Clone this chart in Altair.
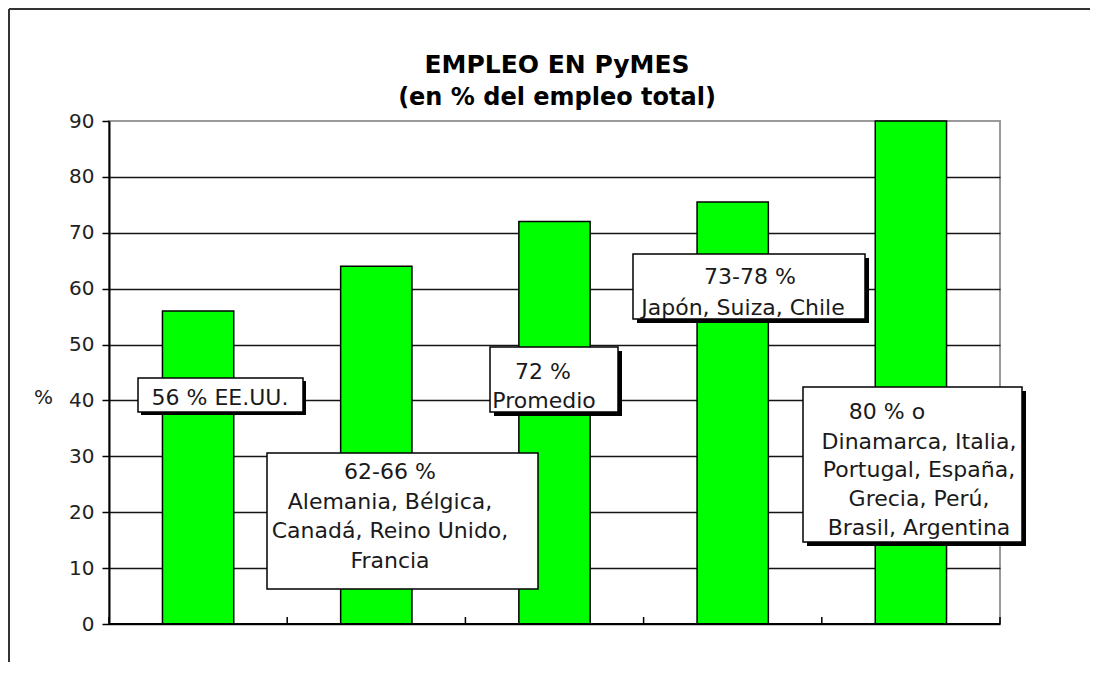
import altair as alt
import pandas as pd

# ---- data ----
categories = ["EE.UU.", "62-66 %", "Promedio", "73-78 %", "80 %"]
values = [56, 64, 72, 75.5, 90]
y_ticks = [0, 10, 20, 30, 40, 50, 60, 70, 80, 90]

title_lines = ["EMPLEO EN PyMES", "(en % del empleo total)"]

# annotation texts (one list per callout box)
note_texts = [
    ["56 % EE.UU."],
    ["62-66 %", "Alemania, Bélgica,", "Canadá, Reino Unido,", "Francia"],
    ["72 %", "Promedio"],
    ["73-78  %", "Japón, Suiza, Chile"],
    ["80 % o", "Dinamarca, Italia,", "Portugal, España,", "Grecia, Perú,", "Brasil, Argentina"],
]

# ---- layout (pixels inside the plot area) ----
W, H = 891, 503
PAD = {"left": 101, "top": 113, "right": 90, "bottom": 38}
FONT = "DejaVu Sans"

box_x0 = [29, 158, 381, 524, 694]
box_x1 = [194, 429, 509, 756, 913]
box_y0 = [257, 332, 226, 133, 266]
box_y1 = [291, 468, 291, 198, 421]
box_shadow = [3, 0, 4, 4, 4]

text_pos = [
    [(111, 277)],
    [(281, 351), (281, 381), (281, 410), (281, 440)],
    [(434, 251), (435, 280)],
    [(641, 156), (634, 187)],
    [(778, 291), (810, 321), (810, 349), (810, 378), (810, 407)],
]
title_pos = [(448, -56), (448, -23)]
title_size = [25, 24]

df = pd.DataFrame({"cat": categories, "val": values})

boxes = pd.DataFrame({"x0": box_x0, "x1": box_x1, "y0": box_y0, "y1": box_y1})
shadows = pd.DataFrame({
    "x0": [a + s for a, s in zip(box_x0, box_shadow) if s > 0],
    "x1": [a + s for a, s in zip(box_x1, box_shadow) if s > 0],
    "y0": [a + s for a, s in zip(box_y0, box_shadow) if s > 0],
    "y1": [a + s for a, s in zip(box_y1, box_shadow) if s > 0],
})
rows = []
for lines, poss in zip(note_texts, text_pos):
    for t, (px, py) in zip(lines, poss):
        rows.append({"t": t, "px": px, "py": py})
texts = pd.DataFrame(rows)
titles = pd.DataFrame({"t": title_lines,
                       "px": [p[0] for p in title_pos],
                       "py": [p[1] for p in title_pos],
                       "fs": title_size})

xscale = alt.Scale(domain=categories, paddingInner=0, paddingOuter=0)

bars = alt.Chart(df).mark_bar(
    color="#00FF00", stroke="black", strokeWidth=1.5, width={"band": 0.4}
).encode(
    x=alt.X(
        "cat:N",
        sort=categories,
        scale=xscale,
        axis=alt.Axis(
            labels=False, title=None, tickBand="extent", domain=False,
            ticks=True, tickSize=7, tickColor="black", tickWidth=1.5,
            grid=False,
        ),
    ),
    y=alt.Y(
        "val:Q",
        scale=alt.Scale(domain=[0, 90], nice=False),
        axis=alt.Axis(
            values=y_ticks,
            title="%",
            titleAngle=0,
            titleX=-66,
            titleY=276,
            titleAlign="center",
            titleBaseline="middle",
            titleFont=FONT,
            titleFontSize=20,
            titleFontWeight="normal",
            titleColor="#222222",
            labelFont=FONT,
            labelFontSize=20,
            labelColor="#222222",
            labelPadding=8,
            tickSize=7,
            tickColor="black",
            tickWidth=1.5,
            domainColor="black",
            domainWidth=2,
            grid=True,
            gridColor={"condition": {"test": "datum.value === 90", "value": "transparent"}, "value": "#151515"},
            gridWidth=1.3,
        ),
    ),
)

# upward half of the x-axis tick marks (they cross the axis line)
tick_up = alt.Chart(df).mark_rule(color="black", strokeWidth=1.5).encode(
    x=alt.X("cat:N", sort=categories, scale=xscale, bandPosition=0, axis=None),
    y=alt.value(H - 7), y2=alt.value(H),
)
tick_up_end = alt.Chart(df).transform_filter(
    alt.datum.cat == categories[-1]
).mark_rule(color="black", strokeWidth=1.5).encode(
    x=alt.X("cat:N", sort=categories, scale=xscale, bandPosition=1, axis=None),
    y=alt.value(H - 7), y2=alt.value(H),
)
base_line = alt.Chart(df).mark_rule(color="black", strokeWidth=2).encode(
    x=alt.value(0), x2=alt.value(W), y=alt.value(H)
)

shadow_layer = alt.Chart(shadows).mark_rect(color="black").encode(
    x=alt.X("x0:Q", scale=None), x2="x1:Q",
    y=alt.Y("y0:Q", scale=None), y2="y1:Q",
)
box_layer = alt.Chart(boxes).mark_rect(fill="white", stroke="black", strokeWidth=1.5).encode(
    x=alt.X("x0:Q", scale=None), x2="x1:Q",
    y=alt.Y("y0:Q", scale=None), y2="y1:Q",
)
text_layer = alt.Chart(texts).mark_text(
    font=FONT, fontSize=22, color="#1a1a1a", align="center", baseline="middle"
).encode(
    x=alt.X("px:Q", scale=None),
    y=alt.Y("py:Q", scale=None),
    text="t:N",
)
title_layer = alt.Chart(titles).mark_text(
    font=FONT, fontWeight="bold", color="black", align="center", baseline="middle"
).encode(
    x=alt.X("px:Q", scale=None),
    y=alt.Y("py:Q", scale=None),
    size=alt.Size("fs:Q", scale=None, legend=None),
    text="t:N",
)

one = alt.Data(values=[{}])
frame_top = alt.Chart(one).mark_rule(color="#333333", strokeWidth=2).encode(
    x=alt.value(-100), x2=alt.value(W + PAD["right"]), y=alt.value(-112)
)
frame_left = alt.Chart(one).mark_rule(color="#333333", strokeWidth=2).encode(
    x=alt.value(-100), y=alt.value(-112), y2=alt.value(H + PAD["bottom"])
)

chart = alt.layer(
    bars, tick_up, tick_up_end, base_line, shadow_layer, box_layer, text_layer,
    title_layer, frame_top, frame_left
).properties(
    width=W,
    height=H,
    autosize="none",
    padding=PAD,
    background="white",
).configure_view(stroke="#9a9a9a", strokeWidth=2)

chart.save("out.html", embed_options={"renderer": "svg", "actions": False})
